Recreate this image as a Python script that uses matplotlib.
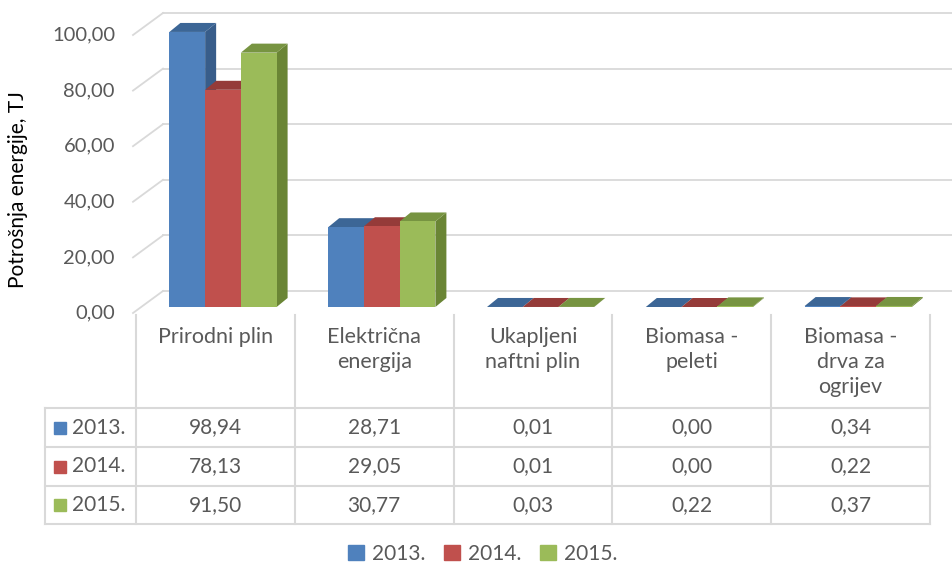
import numpy as np
import matplotlib.pyplot as plt
import matplotlib.transforms as mtransforms
from matplotlib.patches import Polygon, Patch, Rectangle

# data
categories = ["Prirodni plin", "Električna\nenergija", "Ukapljeni\nnaftni plin",
              "Biomasa -\npeleti", "Biomasa -\ndrva za\nogrijev"]
years = ["2013.", "2014.", "2015."]
v2013 = [98.94, 28.71, 0.01, 0.00, 0.34]
v2014 = [78.13, 29.05, 0.01, 0.00, 0.22]
v2015 = [91.50, 30.77, 0.03, 0.22, 0.37]
yticks = [0, 20, 40, 60, 80, 100]

series = [v2013, v2014, v2015]
front_c = ["#4f81bd", "#c0504d", "#9bbb59"]
top_c = ["#3c6696", "#953b39", "#779441"]
side_c = ["#385d8a", "#8a3735", "#6a8535"]
grid_c = "#d9d9d9"
txt_c = "#595959"

plt.rcParams['font.family'] = ['Lato', 'DejaVu Sans']
plt.rcParams['font.size'] = 14

W, H = 952, 567
fig = plt.figure(figsize=(W / 100, H / 100), dpi=100)
ax = fig.add_axes([136 / W, 254 / H, 794 / W, 278 / H])
ax.set_xlim(0, len(categories))
ax.set_ylim(0, 100)
ax.axis('off')

# pixel -> data unit conversion
px_x = len(categories) / 794
px_y = 100 / 278


def off(dx, dy):
    return ax.transData + mtransforms.ScaledTranslation(dx / 100, dy / 100, fig.dpi_scale_trans)


# back wall + left wall
bx, by = 27, 22
for t in yticks:
    ax.plot([0, len(categories) + 0.2], [t, t], color=grid_c, lw=1.3,
            transform=off(bx, by), clip_on=False, zorder=1)
    ax.plot([-3 * px_x, bx * px_x], [t, t + by * px_y], color=grid_c, lw=1.3,
            clip_on=False, zorder=1)
    ax.text(0, t, f"{t:.2f}".replace(".", ","), transform=off(-21, 0),
            ha='right', va='center', color=txt_c, fontsize=14.5)

# bars
w = 0.225
ddx, ddy = 11 * px_x, 9 * px_y
z = 3
for i in range(len(categories)):
    for k, vals in enumerate(series):
        x0 = i + 0.16 + k * w
        v = vals[i]
        tr = off(8, 6)
        side = Polygon([(x0 + w, 0), (x0 + w + ddx, ddy), (x0 + w + ddx, v + ddy), (x0 + w, v)],
                       closed=True, fc=side_c[k], ec='none', transform=tr, zorder=z, clip_on=False)
        topf = Polygon([(x0, v), (x0 + w, v), (x0 + w + ddx, v + ddy), (x0 + ddx, v + ddy)],
                       closed=True, fc=top_c[k], ec='none', transform=tr, zorder=z + 1, clip_on=False)
        ax.add_patch(side)
        ax.add_patch(topf)
        ax.bar(x0, v, w, align='edge', color=front_c[k], transform=tr,
               zorder=z + 2, clip_on=False)
        z += 3

# y label
fig.text(18 / W, 1 - 190 / H, "Potrošnja energije, TJ", rotation=90,
         ha='center', va='center', fontsize=15, color='black')

# data table
bt = mtransforms.blended_transform_factory(ax.transData, fig.transFigure)
fy = lambda ypx: 1 - ypx / H
left = -91 * px_x
row_y = [408, 447, 486, 524]
lw_t = 1.5
for c in range(len(categories) + 1):
    ax.plot([c, c], [fy(315), fy(524)], color=grid_c, lw=lw_t, transform=bt, clip_on=False)
ax.plot([left, left], [fy(408), fy(524)], color=grid_c, lw=lw_t, transform=bt, clip_on=False)
for ry in row_y:
    ax.plot([left, len(categories)], [fy(ry), fy(ry)], color=grid_c, lw=lw_t,
            transform=bt, clip_on=False)

for i, cat in enumerate(categories):
    ax.text(i + 0.5, fy(327), cat, transform=bt, ha='center', va='top',
            color=txt_c, fontsize=15.5, linespacing=1.3, clip_on=False)
    for k, vals in enumerate(series):
        yc = (row_y[k] + row_y[k + 1]) / 2
        ax.text(i + 0.5, fy(yc), f"{vals[i]:.2f}".replace(".", ","), transform=bt,
                ha='center', va='center', color=txt_c, fontsize=15, clip_on=False)

for k, yr in enumerate(years):
    yc = (row_y[k] + row_y[k + 1]) / 2
    fig.patches.append(Rectangle((54 / W, fy(yc + 6)), 12 / W, 12 / H, color=front_c[k],
                                 transform=fig.transFigure, figure=fig))
    fig.text(72 / W, fy(yc), yr, color=txt_c, ha='left', va='center', fontsize=15)

# legend
handles = [Patch(color=c, label=y) for c, y in zip(front_c, years)]
leg = fig.legend(handles=handles, loc='center', bbox_to_anchor=(483 / W, fy(554)), ncol=3,
                 frameon=False, handlelength=0.75, handleheight=0.75, handletextpad=0.4,
                 columnspacing=0.9, fontsize=15, borderpad=0.1)
for t in leg.get_texts():
    t.set_color(txt_c)

fig.savefig("out.png", dpi=100)
